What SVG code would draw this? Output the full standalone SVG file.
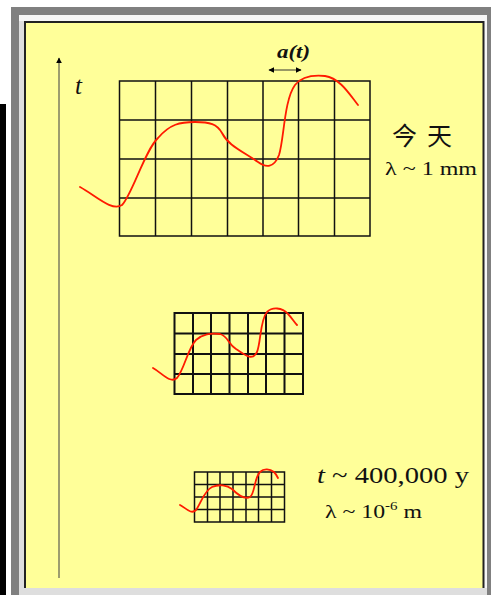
<svg xmlns="http://www.w3.org/2000/svg" width="491" height="595" viewBox="0 0 491 595">
<style>
.grid{fill:none;stroke:#111;stroke-linecap:square}
.wave{fill:none;stroke:#ff1a00;stroke-width:1.8;stroke-linecap:round;stroke-linejoin:round}
.serif{font-family:"Liberation Serif","Times New Roman",serif;fill:#111}
.cjk{font-family:"Noto Sans CJK TC","Noto Sans CJK SC",sans-serif;fill:#111}
</style>
<defs>
<marker id="ah" viewBox="0 0 10 10" refX="9" refY="5" markerWidth="6" markerHeight="6" orient="auto-start-reverse" markerUnits="userSpaceOnUse">
<path d="M0,0 L10,5 L0,10 z" fill="#000"/>
</marker>
</defs>
<g id="frame">
<rect x="0" y="0" width="491" height="595" fill="#ffffff"/>
<rect x="0" y="104" width="6" height="491" fill="#000"/>
<rect x="11" y="7" width="480" height="588" fill="#808080"/>
<rect x="19" y="15" width="468" height="580" fill="#dedede"/>
<rect x="19" y="15" width="468" height="6" fill="#f6f6f6"/>
<rect x="484" y="15" width="3" height="573" fill="#f6f6f6"/>
<rect x="25" y="22" width="459" height="566" fill="#ffff99"/>
<path d="M25,588 V22 H483.5 V588" fill="none" stroke="#222" stroke-width="2"/>
</g>
<g id="connectors">
<line x1="59" y1="578" x2="59" y2="58" stroke="#7d7d60" stroke-width="1.5" marker-end="url(#ah)"/>
<line x1="269" y1="70" x2="301" y2="70" stroke="#333" stroke-width="1" marker-start="url(#ah)" marker-end="url(#ah)"/>
</g>
<g id="axis-label">
<text class="serif" x="75" y="94" font-size="25" font-style="italic">t</text>
</g>
<g id="scale-label">
<text class="serif" x="277" y="58" font-size="19" font-style="italic" font-weight="bold" textLength="33" lengthAdjust="spacingAndGlyphs">a(t)</text>
</g>
<g id="grid-large">
<path class="grid" stroke-width="1.5" d="M119.5,81 V236 M155.5,81 V236 M191.5,81 V236 M227.5,81 V236 M263,81 V236 M298.5,81 V236 M334.5,81 V236 M370,81 V236 M119.5,81 H370 M119.5,120 H370 M119.5,159 H370 M119.5,198 H370 M119.5,236 H370"/>
<path class="wave" d="M80,187 C95,195 112,212 122,205 C132,195 145,150 158,138 C170,124 180,122 195,122 C210,122 217,124 222,133 C228,145 240,150 258,162 C266,168 274,168 279,155 C284,140 284,100 295,85 C302,76 315,75 325,76 C340,78 350,95 358,105"/>
</g>
<g id="label-today">
<text class="cjk" x="392" y="145" font-size="25" letter-spacing="10">今天</text>
<text class="serif" x="385" y="175" font-size="19" textLength="92" lengthAdjust="spacingAndGlyphs">λ ~ 1 mm</text>
</g>
<g id="grid-medium">
<path class="grid" stroke-width="2" d="M174.5,313 V394 M193,313 V394 M211,313 V394 M229.5,313 V394 M248,313 V394 M266,313 V394 M284.5,313 V394 M303,313 V394 M174.5,313 H303 M174.5,333.5 H303 M174.5,354 H303 M174.5,374 H303 M174.5,394 H303"/>
<path class="wave" d="M153,368 C162,373 170,384 177,378 C184,370 188,348 196,340 C203,334 210,333 220,334 C228,336 228,344 236,349 C244,354 252,362 257,352 C261,342 260,320 267,312 C272,307 282,307 288,314 C292,318 294,322 297,325"/>
</g>
<g id="grid-small">
<path class="grid" stroke-width="1.5" d="M194.5,472 V522 M207.5,472 V522 M220,472 V522 M233,472 V522 M246,472 V522 M258.5,472 V522 M271.5,472 V522 M284.5,472 V522 M194.5,472 H284.5 M194.5,484.5 H284.5 M194.5,497 H284.5 M194.5,509.5 H284.5 M194.5,522 H284.5"/>
<path class="wave" d="M180,505 C186,508 191,515 196,510 C201,503 204,491 212,487 C219,484 227,485 232,489 C237,494 244,500 250,497 C255,494 254,478 260,472 C264,468 270,469 274,472 C276,474 277,476 278,478"/>
</g>
<g id="label-early">
<text class="serif" x="317" y="483" font-size="24" textLength="152" lengthAdjust="spacingAndGlyphs"><tspan font-style="italic">t</tspan> ~ 400,000 y</text>
<text class="serif" x="325" y="518" font-size="19" textLength="97" lengthAdjust="spacingAndGlyphs">λ ~ 10<tspan font-size="12" dy="-8">-6</tspan><tspan dy="8"> m</tspan></text>
</g>
</svg>
